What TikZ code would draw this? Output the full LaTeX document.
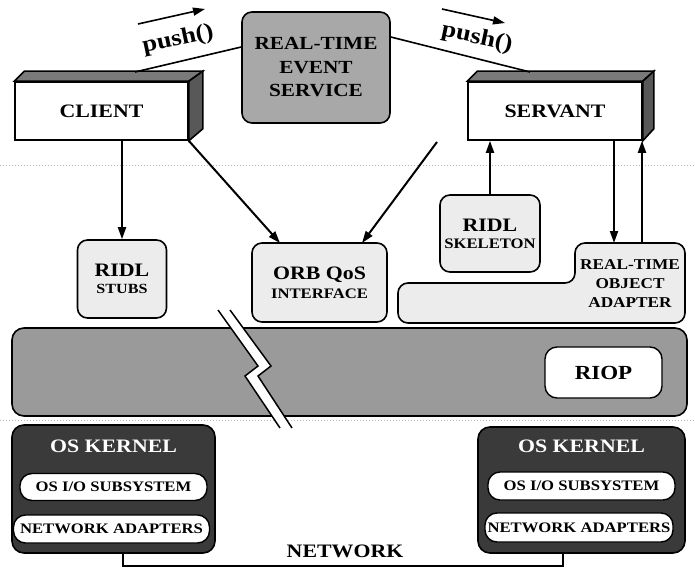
\documentclass[tikz,border=0pt]{standalone}
\usepackage{fontspec}
\setmainfont{Liberation Serif}[FakeStretch=1.15]
\usetikzlibrary{arrows.meta}
\definecolor{evgray}{HTML}{A8A8A8}
\definecolor{lightg}{HTML}{ECECEC}
\definecolor{bandg}{HTML}{9A9A9A}
\definecolor{kern}{HTML}{3A3A3A}
\definecolor{topg}{HTML}{7A7A7A}
\definecolor{sideg}{HTML}{585858}
\newcommand\myfs[2]{\fontsize{#1}{#2}\selectfont}
\begin{document}
\begin{tikzpicture}[x=1pt,y=-1pt,line width=1.6pt,
  arr/.style={-{Triangle[length=12pt,width=8pt]},line width=2pt},
  conn/.style={line width=1.6pt},
  softbox/.style={draw,line width=1.6pt,rounded corners=10pt,fill=lightg,inner sep=0pt,align=center},
  frontbox/.style={draw,line width=1.6pt,fill=white,inner sep=0pt,minimum width=173pt,minimum height=58pt,font=\bfseries\myfs{19}{22}},
  whitebox/.style={draw,line width=1.4pt,fill=white,rounded corners=12pt,inner sep=0pt,font=\bfseries\myfs{14.5}{16}},
  kernbox/.style={draw,line width=1.6pt,fill=kern,rounded corners=12pt,inner sep=0pt},
  sep/.style={gray!55,dotted,line width=1pt}]
\useasboundingbox (0,0) rectangle (695,567);

% faint layer separators
\draw[sep] (0,165) -- (695,165);
\draw[sep] (0,420) -- (695,420);

% event service
\node[draw,line width=1.6pt,rounded corners=10pt,fill=evgray,inner sep=0pt,
      minimum width=148pt,minimum height=111pt,align=center,
      font=\bfseries\myfs{18.5}{23.5}] (ev) at (316,67.5) {REAL-TIME\\EVENT\\SERVICE};

% client 3D box
\node[frontbox] (cl) at (101.5,111) {CLIENT};
\filldraw[fill=topg,line width=1.6pt] (cl.north west) -- ++(10,-10) -- ([shift={(14,-10)}]cl.north east) -- (cl.north east) -- cycle;
\filldraw[fill=sideg,line width=1.6pt] (cl.north east) -- ++(14,-10) -- ([shift={(14,-12)}]cl.south east) -- (cl.south east) -- cycle;

% servant 3D box
\node[frontbox,minimum width=174pt] (sv) at (555,111) {SERVANT};
\filldraw[fill=topg,line width=1.6pt] (sv.north west) -- ++(10,-10) -- ([shift={(11,-10)}]sv.north east) -- (sv.north east) -- cycle;
\filldraw[fill=sideg,line width=1.6pt] (sv.north east) -- ++(11,-10) -- ([shift={(11,-12)}]sv.south east) -- (sv.south east) -- cycle;

% push() connectors and labels
\coordinate (clt) at (135,72);
\coordinate (svt) at (530,72);
\draw[conn] (clt) -- (ev.west |- 0,47);
\draw[conn] (ev.east |- 0,37) -- (svt);
\node[rotate=12,inner sep=0pt,font=\bfseries\myfs{23}{23}] (pl) at (178,40) {push()};
\node[rotate=-12,inner sep=0pt,font=\bfseries\myfs{23}{23}] (pr) at (477,38) {push()};
\coordinate (pla) at (138,24); \coordinate (plb) at (205,9);
\coordinate (pra) at (442,9); \coordinate (prb) at (505,23);
\draw[arr,line width=1.6pt] (pla) -- (plb);
\draw[arr,line width=1.6pt] (pra) -- (prb);

% RIDL stubs, ORB QoS, RIDL skeleton
\node[softbox,minimum width=89pt,minimum height=78pt] (stubs) at (122,279)
  {\bfseries\myfs{19}{21}RIDL\\[5pt]\bfseries\myfs{14}{16}STUBS};
\node[softbox,minimum width=135pt,minimum height=79pt] (orb) at (319.5,282.5)
  {\bfseries\myfs{19}{21}ORB QoS\\[5pt]\bfseries\myfs{14.5}{16}INTERFACE};
\node[softbox,minimum width=100pt,minimum height=77pt] (skel) at (490,233.5)
  {\bfseries\myfs{19}{21}RIDL\\[5pt]\bfseries\myfs{14.5}{16}SKELETON};

% real-time object adapter (L-shape)
\filldraw[fill=lightg,line width=1.6pt,rounded corners=10pt]
  (398,283) -- (575,283) -- (575,243) -- (685,243) -- (685,323) -- (398,323) -- cycle;
\node[align=center,font=\bfseries\myfs{15}{19}] (adtxt) at (630,284) {REAL-TIME\\OBJECT\\ADAPTER};
\coordinate (adin) at (614,243);
\coordinate (adout) at (642,243);

% connectors
\draw[arr] (stubs.north |- cl.south) -- (stubs.north);
\coordinate (o1) at (280,243);
\draw[arr] (cl.south east) -- (o1);
\coordinate (sq) at (437,142);
\coordinate (o2) at (362,243);
\draw[arr] (sq) -- (o2);
\draw[arr] (skel.north) -- (skel.north |- sv.south);
\draw[arr] (adin |- sv.south) -- (adin);
\draw[arr] (adout) -- (adout |- sv.south);

% ORB core band with break
\node[draw,line width=1.6pt,rounded corners=12pt,fill=bandg,inner sep=0pt,
      minimum width=675pt,minimum height=88pt] (band) at (349.5,372) {};
\fill[white] (218,310) -- (258,366) -- (245,376) -- (280,428) -- (292,428) -- (258,376) -- (271,366) -- (230,310) -- cycle;
\draw[line width=1.5pt] (218,310) -- (258,366) -- (245,376) -- (280,428);
\draw[line width=1.5pt] (230,310) -- (271,366) -- (258,376) -- (292,428);
\node[whitebox,minimum width=117pt,minimum height=51pt,font=\bfseries\myfs{20}{20}] (riop) at (603.5,372.5) {RIOP};

% OS kernels
\node[kernbox,minimum width=203pt,minimum height=128pt] (kl) at (113.5,489) {};
\node[text=white,font=\bfseries\myfs{19}{19}] (klt) at (113.5,446) {OS KERNEL};
\node[whitebox,minimum width=187pt,minimum height=27pt] (iol) at (113.5,487) {OS I/O SUBSYSTEM};
\node[whitebox,minimum width=196pt,minimum height=28pt] (nal) at (111.5,529) {NETWORK ADAPTERS};

\node[kernbox,minimum width=207pt,minimum height=126pt] (kr) at (581.5,490) {};
\node[text=white,font=\bfseries\myfs{19}{19}] (krt) at (581.5,446) {OS KERNEL};
\node[whitebox,minimum width=187pt,minimum height=28pt] (ior) at (581.5,486) {OS I/O SUBSYSTEM};
\node[whitebox,minimum width=188pt,minimum height=29pt] (nar) at (579,527.5) {NETWORK ADAPTERS};

% network
\draw[line width=1.6pt] ([xshift=9.5pt]kl.south) -- ++(0,12) -| ([xshift=-18.5pt]kr.south);
\node[font=\bfseries\myfs{19}{19}] (net) at (345,551) {NETWORK};
\end{tikzpicture}
\end{document}
